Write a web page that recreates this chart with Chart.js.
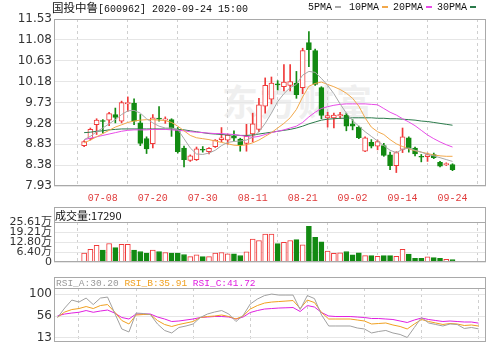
<!DOCTYPE html>
<html lang="zh-CN">
<head>
<meta charset="utf-8">
<title>国投中鲁 K线</title>
<script src="https://cdn.jsdelivr.net/npm/chart.js@4.4.1/dist/chart.umd.min.js"></script>
<style>
  html, body { margin: 0; padding: 0; background: #fff; }
  #page { position: relative; width: 500px; height: 351px; overflow: hidden; }
  canvas { position: absolute; left: 0; }
  .txt { position: absolute; white-space: nowrap; line-height: 12px; color: #111; }
  .mono { font-family: "Liberation Mono", "DejaVu Sans Mono", monospace; font-size: 10px; }
  .cjk { font-family: "Noto Sans CJK SC", sans-serif; font-size: 11.5px; }
  .sw { display: inline-block; width: 6px; height: 2px; vertical-align: middle; margin-left: 3px; }
  .wm { position: absolute; left: 222px; top: 74px; font: bold 36px "Noto Sans CJK SC", sans-serif; color: #efefef; letter-spacing: 2px; }
</style>
</head>
<body>
<div id="page">
  <div class="wm">东方财富</div>
  <canvas id="mainChart" width="500" height="205" style="top:0"></canvas>
  <canvas id="volChart" width="500" height="66" style="top:205px"></canvas>
  <canvas id="rsiChart" width="500" height="79" style="top:272px"></canvas>

  <div class="txt" style="left:52px; top:1px"><span class="cjk">国投中鲁</span><span class="mono">[600962] 2020-09-24 15:00</span></div>
  <div class="txt mono" style="left:308px; top:2px">5PMA<span class="sw" style="background:#a8a8a8"></span></div>
  <div class="txt mono" style="left:349px; top:2px">10PMA<span class="sw" style="background:#f2a84a"></span></div>
  <div class="txt mono" style="left:393px; top:2px">20PMA<span class="sw" style="background:#e84ce8"></span></div>
  <div class="txt mono" style="left:437px; top:2px">30PMA<span class="sw" style="background:#2a7a4a"></span></div>

  <div class="txt" style="left:55px; top:209px; font-family:'Noto Sans CJK SC', sans-serif; font-size:11px">成交量:17290</div>
  <div class="txt mono" style="left:56px; top:278px; font-size:9.5px"><span style="color:#999">RSI_A:30.20</span> <span style="color:#f0a020">RSI_B:35.91</span> <span style="color:#e020e0">RSI_C:41.72</span></div>
</div>
<script>
const dates = ["07-03", "07-06", "07-07", "07-08", "07-09", "07-10", "07-13", "07-14", "07-15", "07-16",
  "07-17", "07-20", "07-21", "07-22", "07-23", "07-24", "07-27", "07-28", "07-29", "07-30",
  "07-31", "08-03", "08-04", "08-05", "08-06", "08-07", "08-10", "08-11", "08-12", "08-13",
  "08-14", "08-17", "08-18", "08-19", "08-20", "08-21", "08-24", "08-25", "08-26", "08-27",
  "08-28", "08-31", "09-01", "09-02", "09-03", "09-04", "09-07", "09-08", "09-09", "09-10",
  "09-11", "09-14", "09-15", "09-16", "09-17", "09-18", "09-21", "09-22", "09-23", "09-24"];

const openP = [8.80, 8.95, 9.25, 9.34, 9.35, 9.47, 9.33, 9.70, 9.72, 9.29,
  8.95, 8.84, 9.39, 9.35, 9.36, 9.13, 8.75, 8.48, 8.50, 8.72,
  8.67, 8.78, 8.93, 8.92, 9.00, 8.94, 8.85, 9.05, 9.15, 9.65,
  9.80, 10.13, 10.07, 10.10, 10.15, 10.05, 11.02, 10.85, 10.05, 9.40,
  9.40, 9.44, 9.46, 9.27, 9.20, 8.68, 8.87, 8.79, 8.80, 8.60,
  8.37, 8.72, 8.97, 8.75, 8.57, 8.56, 8.61, 8.44, 8.39, 8.39];
const highP = [8.91, 9.18, 9.38, 9.36, 9.52, 9.61, 9.76, 9.85, 9.81, 9.47,
  8.99, 9.47, 9.64, 9.42, 9.38, 9.19, 8.79, 8.60, 8.77, 8.78,
  8.76, 8.93, 9.19, 9.05, 9.12, 8.96, 9.26, 9.50, 9.82, 10.26,
  10.28, 10.20, 10.55, 10.55, 10.40, 10.90, 11.26, 10.88, 10.07, 9.52,
  9.50, 9.52, 9.50, 9.36, 9.22, 8.99, 8.93, 8.92, 8.85, 8.66,
  8.67, 9.18, 8.99, 8.77, 8.61, 8.64, 8.64, 8.46, 8.43, 8.41];
const lowP = [8.78, 8.92, 9.04, 9.07, 9.23, 9.29, 9.29, 9.54, 9.25, 8.80,
  8.63, 8.75, 9.33, 9.28, 9.00, 8.64, 8.34, 8.46, 8.48, 8.66,
  8.62, 8.76, 8.88, 8.83, 8.90, 8.68, 8.68, 8.88, 9.10, 9.50,
  9.70, 10.00, 9.98, 9.98, 9.82, 9.92, 10.50, 10.10, 9.38, 9.20,
  9.18, 9.38, 9.12, 9.14, 8.95, 8.67, 8.75, 8.71, 8.57, 8.28,
  8.22, 8.65, 8.66, 8.58, 8.45, 8.46, 8.52, 8.34, 8.37, 8.26];
const closeP = [8.89, 9.15, 9.35, 9.32, 9.49, 9.41, 9.73, 9.73, 9.33, 8.85,
  8.73, 9.40, 9.37, 9.38, 9.17, 8.67, 8.50, 8.58, 8.73, 8.70,
  8.74, 8.92, 8.97, 9.03, 8.96, 8.82, 9.00, 9.27, 9.68, 10.10,
  10.15, 10.11, 10.17, 10.18, 9.90, 10.85, 10.87, 10.12, 9.45, 9.45,
  9.46, 9.47, 9.22, 9.22, 8.97, 8.97, 8.79, 8.89, 8.59, 8.37,
  8.65, 8.99, 8.74, 8.62, 8.55, 8.61, 8.54, 8.36, 8.41, 8.28];

const ma5 = [8.93, 9.00, 9.10, 9.18, 9.27, 9.36, 9.47, 9.55, 9.56, 9.50,
  9.38, 9.29, 9.22, 9.18, 9.18, 9.15, 8.95, 8.75, 8.62, 8.61,
  8.64, 8.70, 8.80, 8.87, 8.89, 8.90, 8.92, 8.98, 9.10, 9.28,
  9.50, 9.75, 9.92, 10.05, 10.12, 10.32, 10.40, 10.38, 10.25, 10.10,
  9.92, 9.70, 9.50, 9.34, 9.22, 9.10, 9.00, 8.90, 8.80, 8.70,
  8.65, 8.72, 8.75, 8.70, 8.66, 8.61, 8.58, 8.54, 8.50, 8.46];
const ma10 = [8.86, 8.92, 8.99, 9.06, 9.13, 9.20, 9.25, 9.30, 9.33, 9.35,
  9.36, 9.36, 9.35, 9.34, 9.30, 9.22, 9.12, 9.02, 8.97, 8.95,
  8.93, 8.90, 8.87, 8.84, 8.81, 8.80, 8.82, 8.86, 8.92, 9.00,
  9.08, 9.18, 9.28, 9.40, 9.58, 9.85, 10.08, 10.14, 10.17, 10.12,
  10.07, 10.01, 9.93, 9.82, 9.65, 9.40, 9.20, 9.10, 9.04, 8.93,
  8.84, 8.78, 8.73, 8.69, 8.66, 8.63, 8.60, 8.58, 8.57, 8.57];
const ma20 = [8.93, 8.96, 8.99, 9.02, 9.05, 9.08, 9.11, 9.13, 9.14, 9.14,
  9.14, 9.15, 9.15, 9.15, 9.14, 9.13, 9.12, 9.10, 9.09, 9.08,
  9.07, 9.06, 9.06, 9.05, 9.04, 9.02, 9.00, 8.98, 9.00, 9.04,
  9.08, 9.11, 9.14, 9.18, 9.22, 9.30, 9.42, 9.52, 9.60, 9.64,
  9.67, 9.69, 9.70, 9.70, 9.70, 9.70, 9.69, 9.68, 9.60, 9.52,
  9.46, 9.38, 9.31, 9.23, 9.13, 9.03, 8.95, 8.88, 8.82, 8.77];
const ma30 = [9.08, 9.09, 9.11, 9.12, 9.14, 9.15, 9.16, 9.16, 9.16, 9.16,
  9.16, 9.16, 9.16, 9.16, 9.16, 9.15, 9.14, 9.12, 9.10, 9.08,
  9.06, 9.05, 9.04, 9.03, 9.03, 9.02, 9.02, 9.03, 9.05, 9.07,
  9.09, 9.11, 9.13, 9.15, 9.18, 9.22, 9.27, 9.31, 9.35, 9.37,
  9.38, 9.39, 9.39, 9.40, 9.40, 9.40, 9.40, 9.39, 9.39, 9.38,
  9.38, 9.37, 9.36, 9.35, 9.33, 9.32, 9.30, 9.28, 9.26, 9.24];

// 成交量, 单位: 万
const volumes = [5.9, 8.3, 10.9, 7.8, 12.0, 9.4, 11.5, 11.5, 7.8, 6.9,
  5.9, 7.8, 6.9, 6.3, 5.9, 5.9, 5.0, 3.7, 4.8, 3.7,
  3.7, 5.9, 6.3, 5.4, 5.4, 4.4, 6.7, 14.8, 13.9, 18.0,
  18.0, 11.9, 12.8, 13.9, 14.4, 11.1, 22.8, 15.9, 13.1, 7.2,
  5.7, 6.1, 6.9, 4.8, 6.1, 4.3, 4.3, 3.9, 4.3, 4.3,
  3.9, 8.3, 5.2, 2.6, 2.6, 3.5, 3.0, 2.6, 2.0, 1.729];

const rsiA = [53, 72, 88, 84, 92, 79, 92, 94, 62, 30,
  24, 62, 61, 59, 40, 27, 22, 33, 36, 40,
  53, 60, 64, 67, 60, 45, 57, 80, 90, 97,
  100, 98, 98, 98, 69, 97, 91, 58, 36, 36,
  36, 36, 32, 30, 22, 25, 27, 22, 19, 13,
  33, 53, 42, 39, 36, 40, 39, 31, 33, 30.2];
const rsiB = [53.5, 64, 69, 71, 75, 71, 77, 79, 64, 47,
  40, 58, 59, 59, 47, 39, 35, 39, 42, 45,
  53, 55, 56, 58, 55, 50, 56, 70, 77, 82,
  84, 85, 86, 87, 71, 88, 83, 63, 50, 50,
  50, 50, 48, 46, 40, 41, 42, 38, 35, 30,
  40, 49, 45, 42, 39, 41, 40, 37, 38, 35.91];
const rsiC = [56.5, 60, 62, 63.5, 67, 63.5, 66, 68, 62, 53,
  50, 60, 60, 60, 54, 50, 45, 46, 48, 50,
  53, 54, 55, 55, 54, 50, 54, 63, 67, 70,
  71, 72, 72.5, 73, 65, 77, 74, 63, 56, 55,
  55, 55, 54, 53, 51, 51, 50, 49, 46, 43,
  48, 52, 49, 47, 45, 46, 45, 44, 44, 41.72];

const priceTicks = [7.93, 8.38, 8.83, 9.28, 9.73, 10.18, 10.63, 11.08, 11.53];
const volTicks = [0, 6.40, 12.80, 19.21, 25.61];
const rsiTicks = [13, 56, 100];
const dateTickIdx = [3, 11, 19, 27, 35, 43, 51, 59];

const UP = "#f03a3a";
const DOWN = "#128a12";
const isUp = (i) => closeP[i] >= openP[i];

// frame round the plot area, with an optional header row above it
const frame = {
  id: "frame",
  afterDraw(chart, args, opts) {
    const { ctx, chartArea: a } = chart;
    const head = opts.header || 0;
    ctx.save();
    ctx.strokeStyle = "#a9a9a9";
    ctx.lineWidth = 1;
    const l = Math.round(a.left) + 0.5;
    const r = Math.round(a.right) - 0.5;
    const t = Math.round(a.top - head) + 0.5;
    const b = Math.round(a.bottom) - 0.5;
    ctx.strokeRect(l, t, r - l, b - t);
    if (head) {
      ctx.beginPath();
      ctx.moveTo(l, Math.round(a.top) + 0.5);
      ctx.lineTo(r, Math.round(a.top) + 0.5);
      ctx.stroke();
    }
    ctx.restore();
  },
};

function xScale(showLabels) {
  return {
    type: "linear",
    min: -0.5,
    max: 60.04,
    afterBuildTicks: (axis) => { axis.ticks = dateTickIdx.map((v) => ({ value: v })); },
    afterFit: (axis) => { axis.height = showLabels ? 19 : 0; },
    grid: { color: "#cfcfcf", drawTicks: false },
    border: { display: false, dash: [3, 3] },
    ticks: {
      display: showLabels,
      autoSkip: false,
      maxRotation: 0,
      padding: 6,
      color: "#e03c3c",
      font: { family: "Liberation Mono", size: 10 },
      callback: (v) => dates[v],
    },
  };
}

function yScale(min, max, ticks, fmt, size) {
  return {
    min, max,
    afterBuildTicks: (axis) => { axis.ticks = ticks.map((v) => ({ value: v })); },
    afterFit: (axis) => { axis.width = 54; },
    grid: { color: "#e6e6e6", drawTicks: false },
    border: { display: false },
    ticks: {
      autoSkip: false,
      padding: 2,
      color: "#333",
      font: { family: "'DejaVu Sans', 'Noto Sans CJK SC'", size: size },
      callback: fmt,
    },
  };
}

const base = {
  responsive: false,
  animation: false,
  events: [],
  plugins: { legend: { display: false }, tooltip: { enabled: false } },
};

const lineSet = (arr, color) => ({
  type: "line",
  data: arr.map((v, i) => ({ x: i, y: v })),
  borderColor: color,
  borderWidth: 1,
  pointRadius: 0,
  tension: 0,
  order: 0,
});

new Chart(document.getElementById("mainChart"), {
  type: "bar",
  data: {
    datasets: [
      lineSet(ma5, "#a8a8a8"),
      lineSet(ma10, "#f2a84a"),
      lineSet(ma20, "#e84ce8"),
      lineSet(ma30, "#2a7a4a"),
      {
        data: openP.map((o, i) => ({ x: i, y: [o, closeP[i]] })),
        barThickness: 5,
        minBarLength: 1,
        borderWidth: 1,
        borderSkipped: false,
        grouped: false,
        backgroundColor: (c) => (isUp(c.dataIndex) ? "#fff" : DOWN),
        borderColor: (c) => (isUp(c.dataIndex) ? UP : DOWN),
        order: 1,
      },
      {
        data: lowP.map((lo, i) => ({ x: i, y: [lo, highP[i]] })),
        barThickness: 1,
        borderWidth: 0,
        grouped: false,
        backgroundColor: (c) => (isUp(c.dataIndex) ? UP : DOWN),
        order: 2,
      },
    ],
  },
  options: {
    ...base,
    layout: { padding: { top: 19, right: 14, bottom: 0, left: 0 } },
    plugins: { ...base.plugins, frame: {} },
    scales: {
      x: xScale(true),
      y: yScale(7.93, 11.53, priceTicks, (v) => v.toFixed(2), 12),
    },
  },
  plugins: [frame],
});

new Chart(document.getElementById("volChart"), {
  type: "bar",
  data: {
    datasets: [
      {
        data: volumes.map((v, i) => ({ x: i, y: v })),
        barThickness: 5,
        borderWidth: 1,
        borderSkipped: false,
        grouped: false,
        backgroundColor: (c) => (isUp(c.dataIndex) ? "#fff" : DOWN),
        borderColor: (c) => (isUp(c.dataIndex) ? UP : DOWN),
      },
    ],
  },
  options: {
    ...base,
    layout: { padding: { top: 17, right: 14, bottom: 3, left: 0 } },
    plugins: { ...base.plugins, frame: { header: 15 } },
    scales: {
      x: xScale(false),
      y: yScale(0, 25.61, volTicks, (v) => (v === 0 ? "0" : v.toFixed(2) + "万"), 11),
    },
  },
  plugins: [frame],
});

new Chart(document.getElementById("rsiChart"), {
  type: "line",
  data: {
    datasets: [
      lineSet(rsiA, "#a0a0a0"),
      lineSet(rsiB, "#f0a020"),
      lineSet(rsiC, "#e020e0"),
    ],
  },
  options: {
    ...base,
    layout: { padding: { top: 16, right: 14, bottom: 1, left: 0 } },
    plugins: { ...base.plugins, frame: { header: 11 } },
    scales: {
      x: xScale(false),
      y: yScale(4.3, 112.18, rsiTicks, (v) => String(v), 12),
    },
  },
  plugins: [frame],
});
</script>
</body>
</html>
